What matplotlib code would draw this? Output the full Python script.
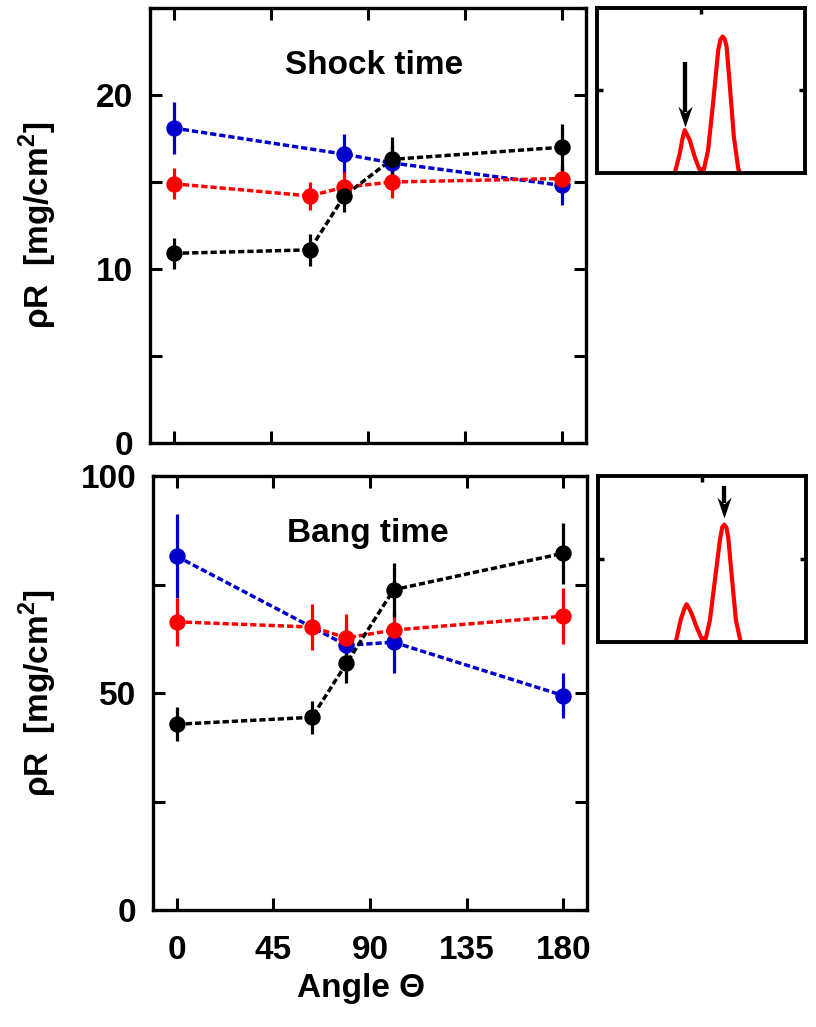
import numpy as np
import matplotlib
matplotlib.use("Agg")
import matplotlib.pyplot as plt
from matplotlib.path import Path

plt.rcParams['font.family'] = ['Liberation Sans', 'DejaVu Sans']
plt.rcParams['font.weight'] = 'bold'
plt.rcParams['mathtext.fontset'] = 'custom'
plt.rcParams['mathtext.rm'] = 'Liberation Sans:bold'
plt.rcParams['mathtext.bf'] = 'Liberation Sans:bold'

# ---- areal density vs. polar angle -------------------------------------
angles_blue = [0, 79, 101, 180]
angles_rb = [0, 63, 79, 101, 180]

shock_blue = [18.1, 16.6, 16.1, 14.8]
shock_blue_err = [1.5, 1.15, 1.0, 1.1]
shock_red = [14.9, 14.2, 14.7, 15.0, 15.2]
shock_red_err = [0.9, 0.8, 0.9, 0.9, 0.8]
shock_black = [10.9, 11.1, 14.2, 16.3, 17.0]
shock_black_err = [0.9, 0.9, 0.9, 1.3, 1.35]

bang_blue = [81.5, 61.0, 61.7, 49.4]
bang_blue_err = [9.7, 5.0, 7.0, 5.1]
bang_red = [66.4, 65.2, 62.7, 64.5, 67.7]
bang_red_err = [5.5, 5.3, 5.4, 4.6, 6.5]
bang_black = [42.8, 44.4, 56.8, 73.8, 82.2]
bang_black_err = [3.9, 3.8, 4.5, 6.2, 7.0]

xticks = [0, 45, 90, 135, 180]

# ---- spectra shown in the side panels (normalised units) ---------------
spec_x_shock = [0.374, 0.398, 0.412, 0.422, 0.432, 0.446, 0.470, 0.491,
                0.510, 0.534, 0.558, 0.583, 0.594, 0.604, 0.614, 0.623,
                0.639, 0.658, 0.679, 0.687]
spec_y_shock = [0.0, 0.118, 0.215, 0.260, 0.235, 0.199, 0.097, 0.027,
                0.0, 0.138, 0.422, 0.746, 0.810, 0.827, 0.812, 0.766,
                0.523, 0.219, 0.027, 0.0]
spec_x_bang = [0.374, 0.397, 0.415, 0.426, 0.437, 0.450, 0.474, 0.498,
               0.514, 0.538, 0.562, 0.586, 0.597, 0.607, 0.617, 0.626,
               0.642, 0.663, 0.686]
spec_y_bang = [0.0, 0.131, 0.200, 0.227, 0.205, 0.171, 0.090, 0.020,
               0.0, 0.131, 0.372, 0.613, 0.690, 0.707, 0.690, 0.633,
               0.412, 0.131, 0.0]

BLUE = '#0000CC'
RED = '#FF0000'
BLACK = '#000000'

W, H = 816, 1027
fig = plt.figure(figsize=(W / 100, H / 100), dpi=100)


def px_axes(l, t, r, b):
    return fig.add_axes([l / W, 1 - b / H, (r - l) / W, (b - t) / H])


ax_top = px_axes(150, 8, 586, 443)
ax_bot = px_axes(153, 476, 587, 910)
in_top = px_axes(597, 8, 805, 173)
in_bot = px_axes(598, 476, 806, 642)

spine_lw = 2.4


def series(ax, x, y, e, color):
    ax.errorbar(x, y, yerr=e, fmt='o', color=color, ms=10.8, elinewidth=2.3,
                capsize=0, zorder=3)
    ax.plot(x, y, color=color, lw=2.5, dashes=(1.8, 0.85), zorder=2)


def style_main(ax, ylim, yticks, ylabels, show_x):
    ax.set_xlim(-11, 191)
    ax.set_ylim(*ylim)
    ax.set_xticks(xticks)
    ax.set_yticks(yticks)
    ax.set_yticklabels(ylabels)
    if show_x:
        ax.set_xticklabels([str(v) for v in xticks])
    else:
        ax.set_xticklabels([])
    ax.tick_params(direction='in', length=8.6, width=2.2, top=True, right=True,
                   labelsize=24, pad=12)
    ax.tick_params(axis='x', pad=18)
    for s in ax.spines.values():
        s.set_linewidth(spine_lw)
        s.set_zorder(5)


series(ax_top, angles_blue, shock_blue, shock_blue_err, BLUE)
series(ax_top, angles_rb, shock_red, shock_red_err, RED)
series(ax_top, angles_rb, shock_black, shock_black_err, BLACK)
style_main(ax_top, (0, 25), [0, 5, 10, 15, 20, 25],
           ['0', '', '10', '', '20', ''], False)
ax_top.text(0.514, 0.848, 'Shock time', transform=ax_top.transAxes,
            ha='center', va='baseline', fontsize=24, fontweight='bold')

series(ax_bot, angles_blue, bang_blue, bang_blue_err, BLUE)
series(ax_bot, angles_rb, bang_red, bang_red_err, RED)
series(ax_bot, angles_rb, bang_black, bang_black_err, BLACK)
style_main(ax_bot, (0, 100), [0, 25, 50, 75, 100],
           ['0', '', '50', '', '100'], True)
ax_bot.text(0.496, 0.848, 'Bang time', transform=ax_bot.transAxes,
            ha='center', va='baseline', fontsize=24, fontweight='bold')

ylab = r'ρR  [mg/cm$^{2}$]'
for ax in (ax_top, ax_bot):
    pos = ax.get_position()
    fig.text(38 / W, pos.y0 + pos.height / 2, ylab, rotation=90,
             ha='center', va='center', fontsize=24, fontweight='bold')

fig.text(361 / W, 1 - 997 / H, 'Angle Θ', ha='center', va='baseline',
         fontsize=24, fontweight='bold')

# ---- side panels -------------------------------------------------------
head = Path([(0, 0), (-0.34, 1.0), (0, 0.68), (0.34, 1.0), (0, 0)],
            [Path.MOVETO, Path.LINETO, Path.LINETO, Path.LINETO, Path.CLOSEPOLY])


def style_inset(ax, sx, sy, peak_idx, gap, tail):
    ax.plot(sx, sy, color=RED, lw=3.0, solid_joinstyle='round', zorder=2)
    ax.set_xlim(0, 1)
    ax.set_ylim(0, 1)
    ax.set_xticks([0.5])
    ax.set_yticks([0.5])
    ax.set_xticklabels([])
    ax.set_yticklabels([])
    ax.tick_params(direction='in', length=4.5, width=2.5, top=True, right=True)
    for s in ax.spines.values():
        s.set_linewidth(2.8)
        s.set_zorder(5)
    px, py = sx[peak_idx], sy[peak_idx]
    tip = py + gap
    ax.plot([px, px], [tip + 0.09, tip + tail], color=BLACK, lw=3.1,
            solid_capstyle='butt', zorder=3)
    ax.plot([px], [tip], marker=head, ms=30, color=BLACK, mec=BLACK, mew=0,
            zorder=4)


style_inset(in_top, spec_x_shock, spec_y_shock, 3, 0.02, 0.39)
style_inset(in_bot, spec_x_bang, spec_y_bang, 13, 0.042, 0.19)

fig.savefig('out.png', dpi=100)
